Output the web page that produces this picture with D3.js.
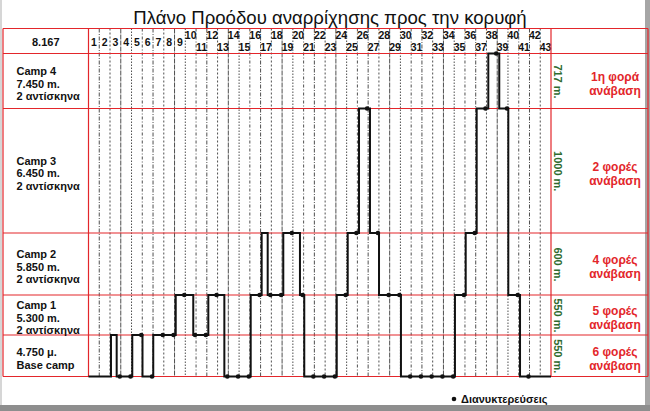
<!DOCTYPE html>
<html><head><meta charset="utf-8">
<script src="https://cdn.jsdelivr.net/npm/d3@7"></script>
<style>
body{margin:0;background:#fff}
svg{display:block;font-family:"Liberation Sans",Arial,sans-serif}
</style>
</head><body>
<svg id="chart" width="650" height="411"></svg>
<script>
// ---------- DATA ----------
const titleText = "Πλάνο Προόδου αναρρίχησης προς την κορυφή";
const summitLabel = "8.167";
const dayLabels = ["1","2","3","4","5","6","7","8","9","10","11","12","13","14","15","16","17","18","19","20","21","22","23","24","25","26","27","28","29","30","31","32","33","34","35","36","37","38","39","40","41","42","43"];
// altitude levels (m): Base, Camp1, Camp2, Camp3, Camp4, Summit
const altitudes = [4750, 5300, 5850, 6450, 7450, 8167];
// labels of the rows (bottom to top)
const rowLabels = [
  ["4.750 μ.", "Base camp"],
  ["Camp 1", "5.300 m.", "2 αντίσκηνα"],
  ["Camp 2", "5.850 m.", "2 αντίσκηνα"],
  ["Camp 3", "6.450 m.", "2 αντίσκηνα"],
  ["Camp 4", "7.450 m.", "2 αντίσκηνα"]
];
const rowMeters = ["550 m.", "550 m.", "600 m.", "1000 m.", "717 m."];
const rowAscents = [
  ["6 φορές", "ανάβαση"],
  ["5 φορές", "ανάβαση"],
  ["4 φορές", "ανάβαση"],
  ["2 φορές", "ανάβαση"],
  ["1η φορά", "ανάβαση"]
];
// route: moment (in days) of each move and altitude reached
const startAltitude = 4750;
const moveDays = [2.09, 2.62, 4.07, 5.02, 6.02, 8.11, 9.74, 11.14, 12.63, 15.08, 16.10, 16.66, 18.11, 19.66, 20.06, 23.08, 24.10, 25.15, 26.17, 27.01, 29.05, 34.07, 35.07, 36.09, 37.17, 38.19, 39.03, 40.12];
const moveAlts = [5300, 4750, 5300, 4750, 5300, 5850, 5300, 5850, 4750, 5850, 6450, 5850, 6450, 5850, 4750, 5850, 6450, 7450, 6450, 5850, 4750, 5850, 6450, 7450, 8167, 7450, 5850, 4750];
// overnight stays (day, altitude)
const nightDays = [3,4,5,6,7,8,9,10,11,12,13,14,15,16,17,18,19,20,21,22,23,24,25,26,27,28,29,30,31,32,33,34,35,36,37,38,39,40,41];
const nightAlts = [4750,4750,5300,4750,5300,5300,5850,5300,5300,5850,4750,4750,4750,5850,5850,5850,6450,5850,4750,4750,4750,5850,6450,7450,6450,5850,5850,4750,4750,4750,4750,4750,5850,6450,7450,8167,7450,5850,4750];
const legendLabel = "Διανυκτερεύσεις";

// ---------- LAYOUT ----------
const svg = d3.select("#chart");
const W = 650, H = 411;
const tableLeft = 3, tableRight = 648, tableTop = 28.5;
const gridLeft = 88.5, gridRight = 551;
const nDays = dayLabels.length;
const red = "#e3262b", green = "#2f6b2f", ink = "#111";

const x = d3.scaleLinear().domain([0, nDays]).range([gridLeft, gridRight]);
const y = d3.scaleLinear().domain(altitudes).range([376.5, 335, 295, 233, 108.5, 53.5]);

// frame
svg.append("rect").attr("width", W).attr("height", H).attr("fill", "#fff");
svg.append("rect").attr("x", 0).attr("y", 0).attr("width", 2).attr("height", 405).attr("fill", "#d6d6d6");
svg.append("rect").attr("x", 645).attr("y", 0).attr("width", 5).attr("height", 411).attr("fill", "#a6a6a6");
svg.append("rect").attr("x", 0).attr("y", 405).attr("width", W).attr("height", 6).attr("fill", "#8e8e8e");

// title
svg.append("text").attr("x", 330).attr("y", 24).attr("text-anchor", "middle")
  .attr("font-size", 18.6).attr("fill", "#111").text(titleText);

// day column separators (dashed, scanned look)
const dashes = ["4,1.5,1,1.5", "2,2", "5,1", "1.5,1.5", "3,2,1,2"];
svg.append("g").selectAll("line").data(d3.range(1, nDays)).join("line")
  .attr("x1", d => x(d)).attr("x2", d => x(d))
  .attr("y1", tableTop).attr("y2", y(altitudes[0]))
  .attr("stroke", "#222").attr("stroke-width", 0.8)
  .attr("stroke-dasharray", (d, i) => dashes[i % dashes.length]);

// day labels
const hdr = svg.append("g").attr("font-size", 10.5).attr("font-weight", "bold")
  .attr("text-anchor", "middle").attr("fill", ink);
hdr.selectAll("text").data(dayLabels).join("text")
  .attr("x", (d, i) => x(i + 0.5))
  .attr("y", (d, i) => i < 9 ? 45.5 : ((i + 1) % 2 === 0 ? 39 : 51))
  .text(d => d);

// red table lines
const hLines = [tableTop].concat(altitudes.map(a => y(a)));
svg.append("g").selectAll("line").data(hLines).join("line")
  .attr("x1", tableLeft).attr("x2", tableRight)
  .attr("y1", d => d).attr("y2", d => d)
  .attr("stroke", red).attr("stroke-width", 1.2);
svg.append("g").selectAll("line").data([tableLeft, gridLeft, gridRight, tableRight]).join("line")
  .attr("x1", d => d).attr("x2", d => d)
  .attr("y1", tableTop).attr("y2", y(altitudes[0]))
  .attr("stroke", red).attr("stroke-width", 1.2);

// summit label
svg.append("text").attr("x", (tableLeft + gridLeft) / 2).attr("y", (tableTop + y(8167)) / 2 + 4.5)
  .attr("text-anchor", "middle").attr("font-size", 11).attr("font-weight", "bold")
  .attr("fill", ink).text(summitLabel);

// row labels
rowLabels.forEach((lines, r) => {
  const cy = (y(altitudes[r]) + y(altitudes[r + 1])) / 2 + 2.5;
  const step = 12.5;
  const g = svg.append("text").attr("font-size", 11).attr("font-weight", "bold").attr("fill", ink);
  lines.forEach((t, k) => {
    g.append("tspan").attr("x", 16.5)
      .attr("y", cy + (k - (lines.length - 1) / 2) * step + 4).text(t);
  });
  // meters (green, rotated)
  svg.append("text")
    .attr("transform", `translate(558,${cy - 2}) rotate(90)`)
    .attr("text-anchor", "middle").attr("dy", "0.35em")
    .attr("font-size", 11).attr("font-weight", "bold").attr("fill", green)
    .text(rowMeters[r]);
  // ascents (red)
  const a = svg.append("text").attr("font-size", 12).attr("font-weight", "bold")
    .attr("fill", red).attr("text-anchor", "middle");
  rowAscents[r].forEach((t, k) => {
    a.append("tspan").attr("x", 615).attr("y", cy + (k - 0.5) * 13.5 + 4.5).text(t);
  });
});

// route
const pts = [[0, startAltitude]].concat(moveDays.map((d, i) => [d, moveAlts[i]]));
pts.push([nDays, moveAlts[moveAlts.length - 1]]);
svg.append("path")
  .attr("d", d3.line().x(d => x(d[0])).y(d => y(d[1])).curve(d3.curveStepAfter)(pts))
  .attr("fill", "none").attr("stroke", ink).attr("stroke-width", 2)
  .attr("stroke-linejoin", "miter");

// overnight dots
svg.append("g").selectAll("circle").data(nightDays).join("circle")
  .attr("cx", d => x(d) - 1).attr("cy", (d, i) => y(nightAlts[i]))
  .attr("r", 2.3).attr("fill", ink);

// legend
svg.append("circle").attr("cx", 454).attr("cy", 399).attr("r", 2.3).attr("fill", ink);
svg.append("text").attr("x", 461).attr("y", 403).attr("font-size", 11)
  .attr("font-weight", "bold").attr("fill", ink).text(legendLabel);
</script>
</body></html>
